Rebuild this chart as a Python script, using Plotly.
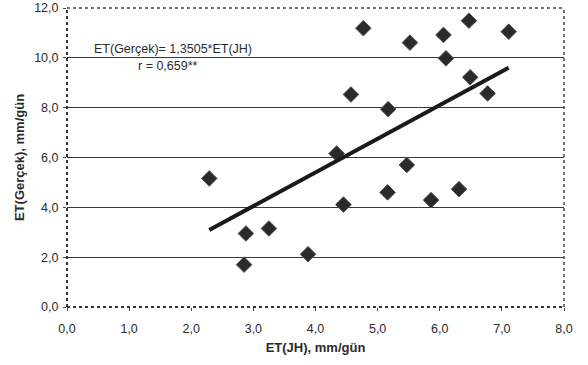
import plotly.graph_objects as go

# ET(JH) vs measured ET, mm/day
et_jh = [2.29, 2.88, 2.85, 3.25, 3.88, 4.34, 4.45, 4.57, 4.77, 5.17, 5.16,
         5.47, 5.52, 5.86, 6.06, 6.10, 6.31, 6.47, 6.49, 6.77, 7.11]
et_gercek = [5.16, 2.95, 1.70, 3.15, 2.12, 6.16, 4.11, 8.53, 11.19, 7.94, 4.60,
             5.70, 10.61, 4.29, 10.92, 9.98, 4.73, 11.49, 9.22, 8.57, 11.05]

slope = 1.3505
fit_x = [min(et_jh), max(et_jh)]
fit_y = [slope * v for v in fit_x]

x_ticks = [0, 1, 2, 3, 4, 5, 6, 7, 8]
y_ticks = [0, 2, 4, 6, 8, 10, 12]

font_family = "Liberation Sans, Arial, sans-serif"
ink = "#2b2b2b"

fig = go.Figure()
fig.add_trace(go.Scatter(
    x=et_jh, y=et_gercek, mode="markers",
    marker=dict(symbol="diamond", size=12, color="#2a2a2a",
                line=dict(color="#555555", width=1)),
    showlegend=False, hoverinfo="x+y",
))
fig.add_trace(go.Scatter(
    x=fit_x, y=fit_y, mode="lines",
    line=dict(color="#1a1a1a", width=4),
    showlegend=False, hoverinfo="skip",
))

fig.update_layout(
    width=588, height=365,
    margin=dict(l=67, r=24, t=8, b=58),
    paper_bgcolor="white", plot_bgcolor="white",
    separators=", ",
    font=dict(family=font_family, size=12, color=ink),
    xaxis=dict(
        range=[0, 8], tickvals=x_ticks, tickformat=".1f",
        showgrid=False, zeroline=False, automargin=False,
        showline=False, ticks="outside", ticklen=3, tickcolor="#444",
        ticklabelstandoff=7, tickfont=dict(size=12.5),
        title=dict(text="<b>ET(JH), mm/gün</b>", font=dict(size=13), standoff=7),
    ),
    yaxis=dict(
        range=[0, 12], tickvals=y_ticks, tickformat=".1f",
        showgrid=True, gridcolor="#3a3a3a", gridwidth=1, automargin=False,
        zeroline=False, showline=False, ticks="outside", ticklen=3,
        tickcolor="#444", ticklabelstandoff=2, tickfont=dict(size=12.5),
        title=dict(text="<b>ET(Gerçek), mm/gün</b>", font=dict(size=13), standoff=6),
    ),
    shapes=[
        # plot frame: dotted border on all four sides
        dict(type="line", xref="paper", yref="paper", x0=0, x1=1, y0=1, y1=1,
             line=dict(color="#444", width=1.5, dash="dot")),
        dict(type="line", xref="paper", yref="paper", x0=1, x1=1, y0=0, y1=1,
             line=dict(color="#444", width=1.5, dash="dot")),
        dict(type="line", xref="paper", yref="paper", x0=0, x1=0, y0=0, y1=1,
             line=dict(color="#333", width=2, dash="dot")),
        dict(type="line", xref="paper", yref="paper", x0=0, x1=1, y0=0, y1=0,
             line=dict(color="#333", width=2, dash="dot")),
    ],
    annotations=[
        dict(text="ET(Gerçek)= 1,3505*ET(JH)", x=1.7, y=10.37, xref="x", yref="y",
             showarrow=False, font=dict(size=12.5, color=ink)),
        dict(text="r = 0,659**", x=1.63, y=9.66, xref="x", yref="y",
             showarrow=False, font=dict(size=12.5, color=ink)),
    ],
)

fig.write_html("out.html")
